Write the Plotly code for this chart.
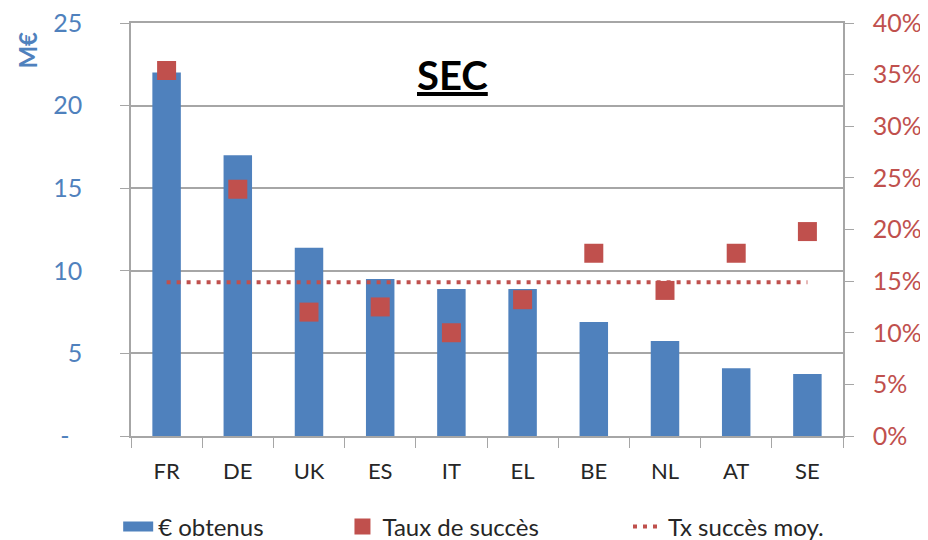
import plotly.graph_objects as go

BLUE = "#4F81BD"
RED = "#C0504D"
GRID = "#A6A6A6"
FONT = "Lato, Carlito, Calibri, sans-serif"

countries = ["FR", "DE", "UK", "ES", "IT", "EL", "BE", "NL", "AT", "SE"]
funding_meur = [22.0, 17.0, 11.4, 9.5, 8.9, 8.9, 6.9, 5.75, 4.1, 3.75]
success_rate = [0.354, 0.239, 0.120, 0.125, 0.100, 0.132, 0.177, 0.141, 0.177, 0.198]
avg_rate = 0.149
left_ticks = [0, 5, 10, 15, 20, 25]
left_ticktext = ["-\u00a0\u00a0", "5", "10", "15", "20", "25"]

fig = go.Figure()
fig.add_trace(go.Bar(
    x=countries, y=funding_meur,
    name="€ obtenus",
    marker=dict(color=BLUE, line=dict(width=0)),
    width=0.4,
    showlegend=False,
))
# legend proxy so the bar key is drawn as a wide block like the original
fig.add_trace(go.Scatter(
    x=[None], y=[None],
    name="€ obtenus",
    mode="lines",
    line=dict(color=BLUE, width=17),
    legend="legend",
))
fig.add_trace(go.Scatter(
    x=countries, y=success_rate,
    name="Taux de succès",
    mode="markers",
    marker=dict(symbol="square", size=19, color=RED),
    yaxis="y2",
    legend="legend2",
))
fig.add_trace(go.Scatter(
    x=countries, y=[avg_rate] * len(countries),
    name="Tx succès moy.",
    mode="lines",
    line=dict(color=RED, dash="4px,6px", width=4),
    yaxis="y2",
    legend="legend3",
))

fig.add_annotation(
    x=0.451, y=0.874, xref="paper", yref="paper",
    xanchor="center", yanchor="middle",
    text="<b><u>SEC</u></b>", showarrow=False,
    font=dict(size=40, color="black", family=FONT),
)
fig.add_annotation(
    x=-0.145, y=0.935, xref="paper", yref="paper",
    xanchor="center", yanchor="middle",
    text="<b>M€</b>", textangle=-90, showarrow=False,
    font=dict(size=24, color=BLUE, family=FONT),
)

legend_style = dict(
    orientation="h",
    y=-0.22, yanchor="middle", xanchor="left",
    font=dict(size=24, color="#262626"),
    bgcolor="rgba(0,0,0,0)",
)

# page body has an 8px margin, so the figure is sized to fit the 928x540 window
fig.update_layout(
    width=920, height=532,
    margin=dict(l=123, r=85, t=15, b=104, autoexpand=False),
    paper_bgcolor="white", plot_bgcolor="white",
    font=dict(family=FONT),
    showlegend=True,
    xaxis=dict(
        type="category",
        range=[-0.5, 9.5],
        automargin=False,
        tickson="boundaries",
        ticks="outside", ticklen=10, tickcolor=GRID,
        showline=True, mirror=True, linecolor=GRID, linewidth=1.5,
        tickfont=dict(size=22, color="#262626"),
        ticklabelstandoff=15,
        showgrid=False,
    ),
    yaxis=dict(
        range=[0, 25.0001],
        automargin=False,
        tickvals=left_ticks, ticktext=left_ticktext,
        ticks="outside", ticklen=9, tickcolor=GRID,
        showline=True, linecolor=GRID, linewidth=1.5,
        showgrid=True, gridcolor=GRID, gridwidth=1.5,
        zeroline=False,
        tickfont=dict(size=25, color=BLUE),
        ticklabelstandoff=33,
        ticklabeloverflow="allow",
    ),
    yaxis2=dict(
        overlaying="y", side="right",
        automargin=False,
        range=[0, 0.400001], dtick=0.05, tickformat=".0%",
        ticks="outside", ticklen=9, tickcolor=GRID,
        showline=True, linecolor=GRID, linewidth=1.5,
        showgrid=False, zeroline=False,
        tickfont=dict(size=25, color=RED),
        ticklabelstandoff=14,
        ticklabeloverflow="allow",
    ),
    legend=dict(legend_style, x=-0.018),
    legend2=dict(legend_style, x=0.297),
    legend3=dict(legend_style, x=0.698),
)

fig.write_html("out.html")
